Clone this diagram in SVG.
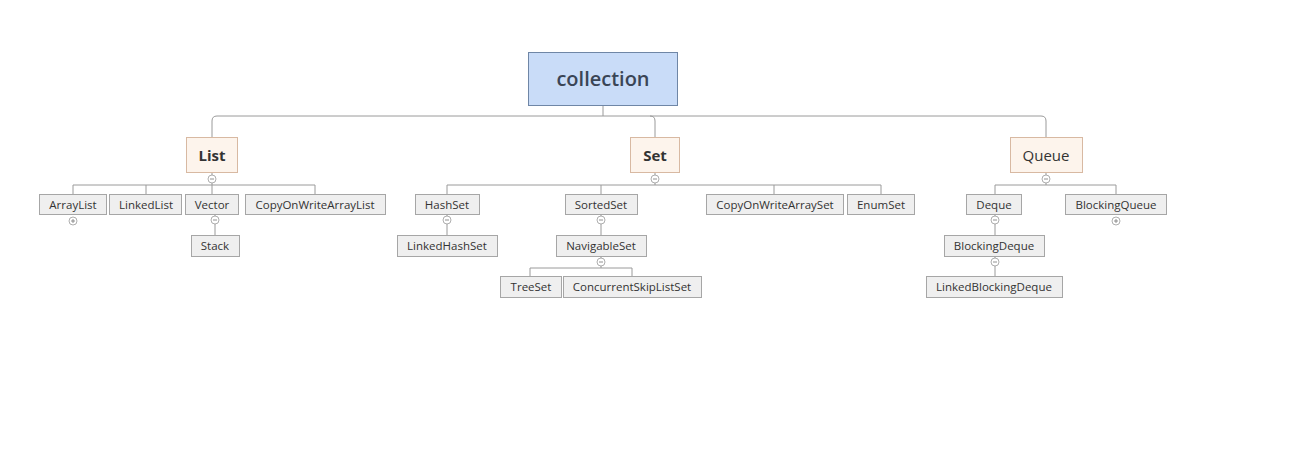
<svg xmlns="http://www.w3.org/2000/svg" width="1305" height="460" viewBox="0 0 1305 460">
<style>
.c{fill:none;stroke:#9a9a9a;stroke-width:1}
.leaf rect{fill:#efefef;stroke:#a6a6a6;stroke-width:1}
.leaf text{font-family:"Open Sans","Noto Sans",sans-serif;font-size:11.5px;fill:#333;text-anchor:middle}
.mid rect{fill:#fdf4ec;stroke:#d8b9a2;stroke-width:1}
.mid text{font-family:"Open Sans","Noto Sans",sans-serif;font-size:15px;fill:#333;text-anchor:middle}
.tg circle{fill:#fff;stroke:#9a9a9a;stroke-width:0.8}
.tg path{stroke:#777;stroke-width:0.8;fill:none}
</style>
<rect width="1305" height="460" fill="#fff"/>
<g id="connectors">
<path class="c" d="M603 106V116M217 116H1041M217 116Q212 116 212 121V137M650 116Q655 116 655 121V137M1041 116Q1046 116 1046 121V137"/>
<path class="c" d="M212 173V185M73 194V185H315V194M146 185V194M212 185V194"/>
<path class="c" d="M215 214V235"/>
<path class="c" d="M655 173V185M447 194V185H881V194M601 185V194M774 185V194"/>
<path class="c" d="M447 214V235M601 214V235M601 256V268M530 276V268H632V276"/>
<path class="c" d="M1046 173V185M995 194V185H1116V194M995 214V235M995 256V276"/>
</g>
<g id="collection"><rect x="528.5" y="52.5" width="149" height="53" fill="#c9dcf8" stroke="#6f86a6"/><text x="603" y="86" font-family="Open Sans,Noto Sans,sans-serif" font-size="20" font-weight="600" fill="#3a4556" text-anchor="middle">collection</text></g>
<g id="List" class="mid"><rect x="186.5" y="137.5" width="51" height="35"/><text x="212" y="161" font-weight="bold">List</text></g>
<g id="Set" class="mid"><rect x="630.5" y="137.5" width="49" height="35"/><text x="655" y="161" font-weight="bold">Set</text></g>
<g id="Queue" class="mid"><rect x="1010.5" y="137.5" width="72" height="35"/><text x="1046" y="161">Queue</text></g>
<g id="ArrayList" class="leaf"><rect x="39.5" y="194.5" width="67" height="20"/><text x="73" y="209">ArrayList</text></g>
<g id="LinkedList" class="leaf"><rect x="109.5" y="194.5" width="72" height="20"/><text x="146" y="209">LinkedList</text></g>
<g id="Vector" class="leaf"><rect x="185.5" y="194.5" width="53" height="20"/><text x="212" y="209">Vector</text></g>
<g id="CopyOnWriteArrayList" class="leaf"><rect x="245.5" y="194.5" width="140" height="20"/><text x="315" y="209">CopyOnWriteArrayList</text></g>
<g id="Stack" class="leaf"><rect x="191.5" y="235.5" width="48" height="21"/><text x="215" y="250">Stack</text></g>
<g id="HashSet" class="leaf"><rect x="415.5" y="194.5" width="64" height="20"/><text x="447" y="209">HashSet</text></g>
<g id="LinkedHashSet" class="leaf"><rect x="397.5" y="235.5" width="100" height="21"/><text x="447" y="250">LinkedHashSet</text></g>
<g id="SortedSet" class="leaf"><rect x="565.5" y="194.5" width="72" height="20"/><text x="601" y="209">SortedSet</text></g>
<g id="NavigableSet" class="leaf"><rect x="556.5" y="235.5" width="90" height="21"/><text x="601" y="250">NavigableSet</text></g>
<g id="TreeSet" class="leaf"><rect x="500.5" y="276.5" width="61" height="21"/><text x="531" y="291">TreeSet</text></g>
<g id="ConcurrentSkipListSet" class="leaf"><rect x="563.5" y="276.5" width="138" height="21"/><text x="632" y="291">ConcurrentSkipListSet</text></g>
<g id="CopyOnWriteArraySet" class="leaf"><rect x="706.5" y="194.5" width="137" height="20"/><text x="775" y="209">CopyOnWriteArraySet</text></g>
<g id="EnumSet" class="leaf"><rect x="847.5" y="194.5" width="67" height="20"/><text x="881" y="209">EnumSet</text></g>
<g id="Deque" class="leaf"><rect x="966.5" y="194.5" width="55" height="20"/><text x="994" y="209">Deque</text></g>
<g id="BlockingDeque" class="leaf"><rect x="944.5" y="235.5" width="100" height="21"/><text x="994" y="250">BlockingDeque</text></g>
<g id="LinkedBlockingDeque" class="leaf"><rect x="926.5" y="276.5" width="136" height="21"/><text x="994" y="291">LinkedBlockingDeque</text></g>
<g id="BlockingQueue" class="leaf"><rect x="1065.5" y="194.5" width="101" height="20"/><text x="1116" y="209">BlockingQueue</text></g>
<g id="toggles" class="tg">
<circle cx="212" cy="179" r="4"/><path d="M210 179H214"/>
<circle cx="655" cy="179" r="4"/><path d="M653 179H657"/>
<circle cx="1046" cy="179" r="4"/><path d="M1044 179H1048"/>
<circle cx="73" cy="221" r="4"/><path d="M71 221H75M73 219V223"/>
<circle cx="215" cy="220" r="4"/><path d="M213 220H217"/>
<circle cx="447" cy="220" r="4"/><path d="M445 220H449"/>
<circle cx="601" cy="220" r="4"/><path d="M599 220H603"/>
<circle cx="601" cy="262" r="4"/><path d="M599 262H603"/>
<circle cx="995" cy="220" r="4"/><path d="M993 220H997"/>
<circle cx="995" cy="262" r="4"/><path d="M993 262H997"/>
<circle cx="1116" cy="221" r="4"/><path d="M1114 221H1118M1116 219V223"/>
</g>
</svg>
